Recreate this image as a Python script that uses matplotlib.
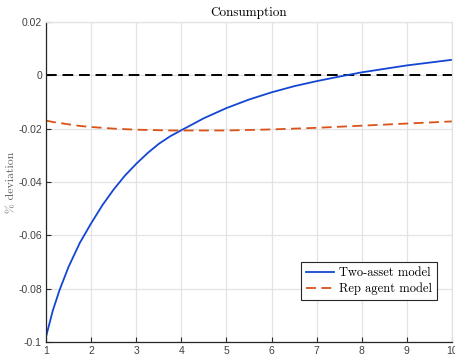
import matplotlib
matplotlib.use('Agg')
import matplotlib.pyplot as plt

# impulse responses of consumption (% deviation), quarters 1..10
quarters = [1, 1.15, 1.3, 1.5, 1.75, 2, 2.25, 2.5, 2.75, 3, 3.25, 3.5, 3.75, 4, 4.5, 5,
	5.5, 6, 6.5, 7, 7.5, 8, 9, 10]
two_asset = [-0.098, -0.0882, -0.0805, -0.0718, -0.0628, -0.0555, -0.0487, -0.0428,
	-0.0376, -0.0332, -0.0292, -0.0257, -0.0229, -0.0206, -0.0161, -0.0123,
	-0.0091, -0.0064, -0.0041, -0.0022, -0.0005, 0.0011, 0.0037, 0.0058]
rep_agent = [-0.0170, -0.0175, -0.0179, -0.0184, -0.0190, -0.0194, -0.0197, -0.0200,
	-0.0202, -0.0204, -0.0205, -0.0206, -0.0207, -0.0207, -0.0207, -0.0207,
	-0.0205, -0.0203, -0.0200, -0.0197, -0.0193, -0.0189, -0.0181, -0.0173]
zero_x = [1, 10]
zero_y = [0, 0]

xticks = [1, 2, 3, 4, 5, 6, 7, 8, 9, 10]
yticks = [0.02, 0, -0.02, -0.04, -0.06, -0.08, -0.1]
ytick_labels = ['0.02', '0', '-0.02', '-0.04', '-0.06', '-0.08', '-0.1']

tick_font = 'Liberation Sans'
tex_font = 'cmr10'

fig = plt.figure(figsize=(4.56, 3.54), dpi=100)
ax = fig.add_axes([0.101, 0.034, 0.890, 0.904])

ax.plot(zero_x, zero_y, color='black', lw=1.4, dashes=(5.5, 3))
ax.plot(quarters, two_asset, color='#1446d4', lw=1.3, label='Two-asset model')
ax.plot(quarters, rep_agent, color='#d95319', lw=1.3, dashes=(5.5, 3), label='Rep agent model')

ax.set_xlim(1, 10)
ax.set_ylim(-0.1, 0.02)
ax.set_xticks(xticks)
ax.set_xticklabels([str(k) for k in xticks])
ax.set_yticks(yticks)
ax.set_yticklabels(ytick_labels)

ax.grid(True, color='#e3e3e3', lw=0.9)
ax.set_axisbelow(True)
for s in ['top', 'right']:
	ax.spines[s].set_color('#e3e3e3')
	ax.spines[s].set_linewidth(0.9)
for s in ['left', 'bottom']:
	ax.spines[s].set_color('#262626')
	ax.spines[s].set_linewidth(0.9)

ax.tick_params(direction='in', length=3.5, width=0.8, color='#262626',
	labelsize=7.5, labelcolor='#404040', pad=3)
for lab in ax.get_xticklabels() + ax.get_yticklabels():
	lab.set_fontfamily(tick_font)

ax.set_title('Consumption', fontfamily=tex_font, fontsize=9.5, pad=4)
ax.set_ylabel('% deviation', fontfamily=tex_font, fontsize=8.5, color='#606060', labelpad=1)

leg = ax.legend(loc='lower right', bbox_to_anchor=(0.963, 0.131),
	prop={'family': tex_font, 'size': 9}, fancybox=False, framealpha=1,
	edgecolor='#262626', borderpad=0.4, labelspacing=0.25, handlelength=2.2,
	handletextpad=0.4, borderaxespad=0)
leg.get_frame().set_linewidth(0.8)

fig.savefig('out.png', dpi=100)
